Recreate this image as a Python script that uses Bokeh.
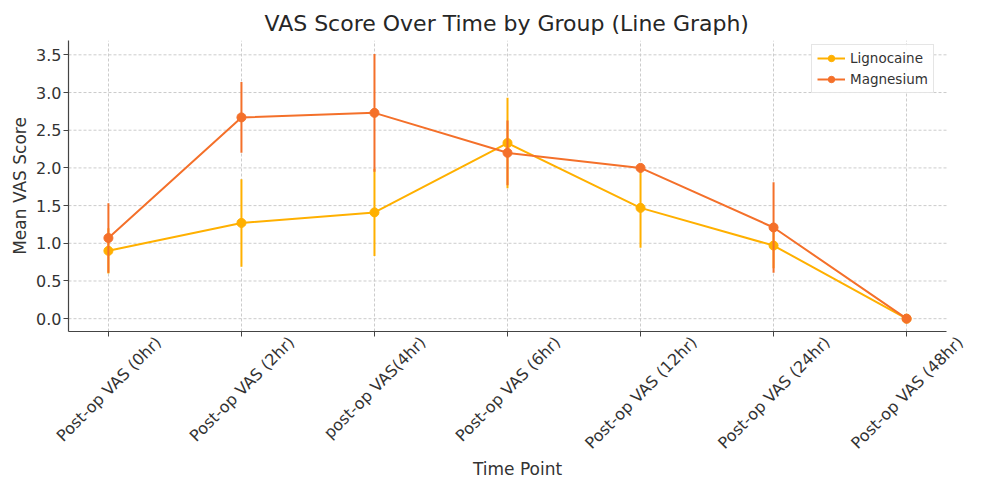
import math
from bokeh.plotting import figure
from bokeh.models import (FixedTicker, NumeralTickFormatter, Range1d, Legend, LegendItem,
                          LinearAxis)
from bokeh.embed import file_html
from bokeh.resources import INLINE

time_points = ["Post-op VAS (0hr)", "Post-op VAS (2hr)", "post-op VAS(4hr)",
               "Post-op VAS (6hr)", "Post-op VAS (12hr)", "Post-op VAS (24hr)",
               "Post-op VAS (48hr)"]
ligno_mean = [0.90, 1.27, 1.41, 2.33, 1.47, 0.97, 0.0]
ligno_sd = [0.30, 0.58, 0.58, 0.60, 0.53, 0.30, 0.0]
mag_mean = [1.07, 2.67, 2.73, 2.20, 2.00, 1.21, 0.0]
mag_sd = [0.46, 0.47, 0.78, 0.43, 0.0, 0.60, 0.0]
y_ticks = [0.0, 0.5, 1.0, 1.5, 2.0, 2.5, 3.0, 3.5]

LIG = "#FFB000"
MAG = "#F4702A"
FONT = "DejaVu Sans"
TICK_PX = 16
TXT = "#333333"
AX = "#444444"
GRID = "#cccccc"

W, H = 986, 493
B_LEFT, B_RIGHT, B_TOP, B_BOTTOM = 68, 20, 40, 162
X0, X1 = -0.3, 6.3                 # visible axis span
PX_PER_X = (946 - B_LEFT) / (X1 - X0)
X1_FRAME = X0 + (W - B_RIGHT - B_LEFT) / PX_PER_X   # frame reaches a little past the axis end
Y0, Y1 = -0.17, 3.69

xs = list(range(len(time_points)))

p = figure(width=W, height=H, output_backend="svg", toolbar_location=None,
           x_range=Range1d(X0, X1_FRAME), y_range=Range1d(Y0, Y1),
           min_border_left=B_LEFT, min_border_right=B_RIGHT, min_border_top=B_TOP,
           min_border_bottom=B_BOTTOM)
p.title.text = "VAS Score Over Time by Group (Line Graph)"
p.title.text_font = FONT
p.title.text_font_size = "22px"
p.title.text_font_style = "normal"
p.title.text_color = "#262626"
p.title.align = "left"
p.title.offset = 196

p.outline_line_color = None
p.background_fill_color = "white"

p.xgrid.grid_line_color = GRID
p.xgrid.grid_line_dash = "3 2"
p.ygrid.visible = False
n_y = len(y_ticks)
p.segment(x0=[X0] * n_y, x1=[X1] * n_y, y0=y_ticks, y1=y_ticks,
          line_color=GRID, line_dash="3 2", line_width=1)

# inner x axis: line + tick marks only
xa = p.xaxis[0]
xa.ticker = FixedTicker(ticks=xs)
xa.bounds = (X0, X1)
xa.major_label_overrides = {i: "" for i in xs}
xa.major_label_text_font_size = "0px"
xa.major_label_standoff = 0

ya = p.yaxis[0]
ya.ticker = FixedTicker(ticks=y_ticks)
ya.formatter = NumeralTickFormatter(format="0.0")
ya.axis_label = "Mean VAS Score"
ya.major_label_standoff = 2
ya.axis_label_standoff = 3
ya.major_label_text_font = FONT
ya.major_label_text_font_size = f"{TICK_PX}px"
ya.major_label_text_color = TXT

for ax in (xa, ya):
    ax.axis_line_color = AX
    ax.axis_line_width = 1.2
    ax.major_tick_line_color = AX
    ax.major_tick_in = 0
    ax.major_tick_out = 5
    ax.minor_tick_line_color = None
    ax.axis_label_text_font = FONT
    ax.axis_label_text_font_size = "17px"
    ax.axis_label_text_font_style = "normal"
    ax.axis_label_text_color = TXT

# outer x axis: rotated category labels; bokeh anchors a rotated label at its end,
# so each label is placed half its rotated width to the right of its category
CW = {"P": .603, "o": .612, "s": .521, "t": .392, "-": .361, "p": .635, " ": .318,
      "V": .684, "A": .684, "S": .635, "(": .390, ")": .390, "h": .634, "r": .411}
def text_w(t):
    return sum(CW.get(c, .636) for c in t) * TICK_PX

c45 = math.cos(math.pi / 4)
label_pos = [round(i + text_w(t) * c45 / 2 / PX_PER_X, 4) for i, t in zip(xs, time_points)]
la = LinearAxis(ticker=FixedTicker(ticks=label_pos),
                major_label_overrides={v: t for v, t in zip(label_pos, time_points)},
                major_label_orientation=math.pi / 4,
                axis_line_color=None, major_tick_line_color=None, minor_tick_line_color=None,
                major_tick_in=0, major_tick_out=0, major_label_standoff=3,
                major_label_text_font=FONT, major_label_text_font_size=f"{TICK_PX}px",
                major_label_text_color=TXT)
p.add_layout(la, "below")

# outermost axis: only the axis title, centred on the visible axis span
ta = LinearAxis(ticker=FixedTicker(ticks=[]), bounds=(X0, X1),
                axis_line_color=None, major_tick_line_color=None, minor_tick_line_color=None,
                major_tick_in=0, major_tick_out=0, major_label_standoff=0,
                major_label_text_font_size="0px",
                axis_label="Time Point", axis_label_standoff=-4,
                axis_label_text_font=FONT, axis_label_text_font_size="17px",
                axis_label_text_font_style="normal", axis_label_text_color=TXT)
p.add_layout(ta, "below")

items = []
for mean, sd, col, name in ((ligno_mean, ligno_sd, LIG, "Lignocaine"),
                            (mag_mean, mag_sd, MAG, "Magnesium")):
    y0 = [m - s for m, s in zip(mean, sd)]
    y1 = [m + s for m, s in zip(mean, sd)]
    p.segment(x0=xs, x1=xs, y0=y0, y1=y1, line_color=col, line_width=2)
    ln = p.line(xs, mean, line_color=col, line_width=2)
    sc = p.scatter(xs, mean, size=9, fill_color=col, line_color=col)
    items.append(LegendItem(label=name, renderers=[ln, sc]))

legend = Legend(items=items, location=(743, 238))
legend.label_text_font = FONT
legend.label_text_font_size = "13.5px"
legend.label_text_color = TXT
legend.border_line_color = GRID
legend.background_fill_alpha = 0.9
legend.glyph_width = 28
legend.glyph_height = 16
legend.label_height = 16
legend.spacing = 5
legend.padding = 5
legend.margin = 0
p.add_layout(legend)

open("out.html", "w").write(file_html(p, INLINE))
